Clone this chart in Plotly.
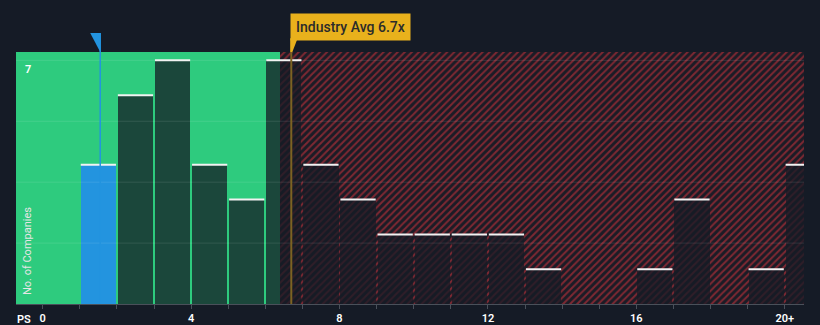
import plotly.graph_objects as go

# ---- data ----
BIN_LEFT = list(range(0, 21))
COUNTS = [0, 4, 6, 7, 4, 3, 7, 4, 3, 2, 2, 2, 2, 1, 0, 0, 1, 3, 0, 1, 4]
COMPANY_PS = 1.55
INDUSTRY_AVG = 6.7
FAIR_LIMIT = 6.4
TICK_VALS = [0, 4, 8, 12, 16, 20]
TICK_TEXT = ["0", "4", "8", "12", "16", "20+"]
GRID_VALS = [1.75, 3.5, 5.25, 7]

X_MIN, X_MAX = -0.72, 20.52
Y_MAX = 7.24

BG = "#151b26"
GREEN = "#2ecb7e"
BLUE = "#2394df"
GOLD = "#e9b11c"

fig = go.Figure()

# hatched (expensive) region
fig.add_trace(go.Bar(
    x=[(FAIR_LIMIT + X_MAX) / 2], y=[Y_MAX], width=[X_MAX - FAIR_LIMIT],
    marker=dict(color="#1b1c26", line=dict(width=0),
                pattern=dict(shape="/", fgcolor="#7e2832", bgcolor="#1b1c26",
                             size=5, solidity=0.4, fillmode="replace")),
    hoverinfo="skip", showlegend=False,
))

# histogram bars
company_bin = int(COMPANY_PS)
colors = [BLUE if b == company_bin else "rgba(22,27,38,0.75)" for b in BIN_LEFT]
fig.add_trace(go.Bar(
    x=[b + 0.5 for b in BIN_LEFT], y=COUNTS, width=0.95,
    marker=dict(color=colors, line=dict(width=0)),
    hoverinfo="skip", showlegend=False,
))

# white caps on bars
cx, cy = [], []
for b, c in zip(BIN_LEFT, COUNTS):
    if c > 0:
        cx += [b + 0.025, b + 0.975, None]
        cy += [c, c, None]
fig.add_trace(go.Scatter(x=cx, y=cy, mode="lines",
                         line=dict(color="#f2f2f2", width=2),
                         hoverinfo="skip", showlegend=False))

# gridlines
gx, gy = [], []
for g in GRID_VALS:
    gx += [X_MIN, X_MAX, None]
    gy += [g, g, None]
fig.add_trace(go.Scatter(x=gx, y=gy, mode="lines",
                         line=dict(color="rgba(255,255,255,0.10)", width=1),
                         hoverinfo="skip", showlegend=False))

BOX_BOTTOM = 1.045
FLAG_TOP = 1.075

shapes = [
    # green (fair) region
    dict(type="rect", xref="x", yref="y", x0=X_MIN, x1=FAIR_LIMIT, y0=0, y1=Y_MAX,
         fillcolor=GREEN, line=dict(width=0), layer="below"),
    # industry avg line
    dict(type="line", xref="x", yref="paper", x0=INDUSTRY_AVG, x1=INDUSTRY_AVG,
         y0=0, y1=1, line=dict(color="#7d6322", width=2), layer="above"),
    # industry tail
    dict(type="path", xref="x", yref="paper",
         path=f"M {INDUSTRY_AVG-0.03},{BOX_BOTTOM+0.01} L {INDUSTRY_AVG+0.17},{BOX_BOTTOM+0.01} "
              f"L {INDUSTRY_AVG+0.03},1.0 L {INDUSTRY_AVG-0.03},1.0 Z",
         fillcolor=GOLD, line=dict(width=0), layer="above"),
    # company line
    dict(type="line", xref="x", yref="paper", x0=COMPANY_PS, x1=COMPANY_PS,
         y0=0, y1=FLAG_TOP, line=dict(color=BLUE, width=1.5), layer="above"),
    # company flag
    dict(type="path", xref="x", yref="paper",
         path=f"M {COMPANY_PS-0.27},{FLAG_TOP} L {COMPANY_PS},{FLAG_TOP} L {COMPANY_PS},1.0 Z",
         fillcolor=BLUE, line=dict(width=0), layer="above"),
]

annotations = [
    dict(x=INDUSTRY_AVG - 0.03, y=BOX_BOTTOM, xref="x", yref="paper", xanchor="left", yanchor="bottom",
         text="Industry Avg 6.7x", showarrow=False,
         font=dict(family="Roboto", size=14, color="#2b2b2b", weight=500),
         bgcolor=GOLD, borderpad=5),
    dict(x=0.015, y=7, xref="paper", yref="y", xanchor="center", yanchor="top",
         text="7", showarrow=False, yshift=-1,
         font=dict(family="Roboto", size=11, color="#ffffff", weight=600)),
    dict(x=0.014, y=0.21, xref="paper", yref="paper", xanchor="center", yanchor="middle",
         text="No. of Companies", showarrow=False, textangle=-90,
         font=dict(family="Roboto", size=11, color="#e6e6e6")),
    dict(x=0.0102, y=-0.062, xref="paper", yref="paper", xanchor="center", yanchor="middle",
         text="PS", showarrow=False,
         font=dict(family="Roboto", size=11, color="#ffffff", weight=600)),
]

fig.update_layout(
    width=820, height=325,
    margin=dict(l=16, r=16, t=52, b=21, autoexpand=False),
    paper_bgcolor=BG, plot_bgcolor=BG,
    barmode="overlay", bargap=0,
    shapes=shapes, annotations=annotations,
    xaxis=dict(range=[X_MIN, X_MAX], tickvals=TICK_VALS, ticktext=TICK_TEXT,
               automargin=False,
               showgrid=False, zeroline=False, showline=True, linecolor="#4a505a", linewidth=1,
               ticks="outside", ticklen=4, tickcolor="#4a505a",
               minor=dict(dtick=1, tick0=0, ticks="outside", ticklen=4, tickcolor="#4a505a", showgrid=False),
               tickfont=dict(family="Roboto", size=11, color="#ffffff", weight=600),
               fixedrange=True),
    yaxis=dict(range=[0, Y_MAX], showgrid=False, zeroline=False, showticklabels=False,
               automargin=False, showline=False, fixedrange=True),
)

fig.write_html("out.html")
